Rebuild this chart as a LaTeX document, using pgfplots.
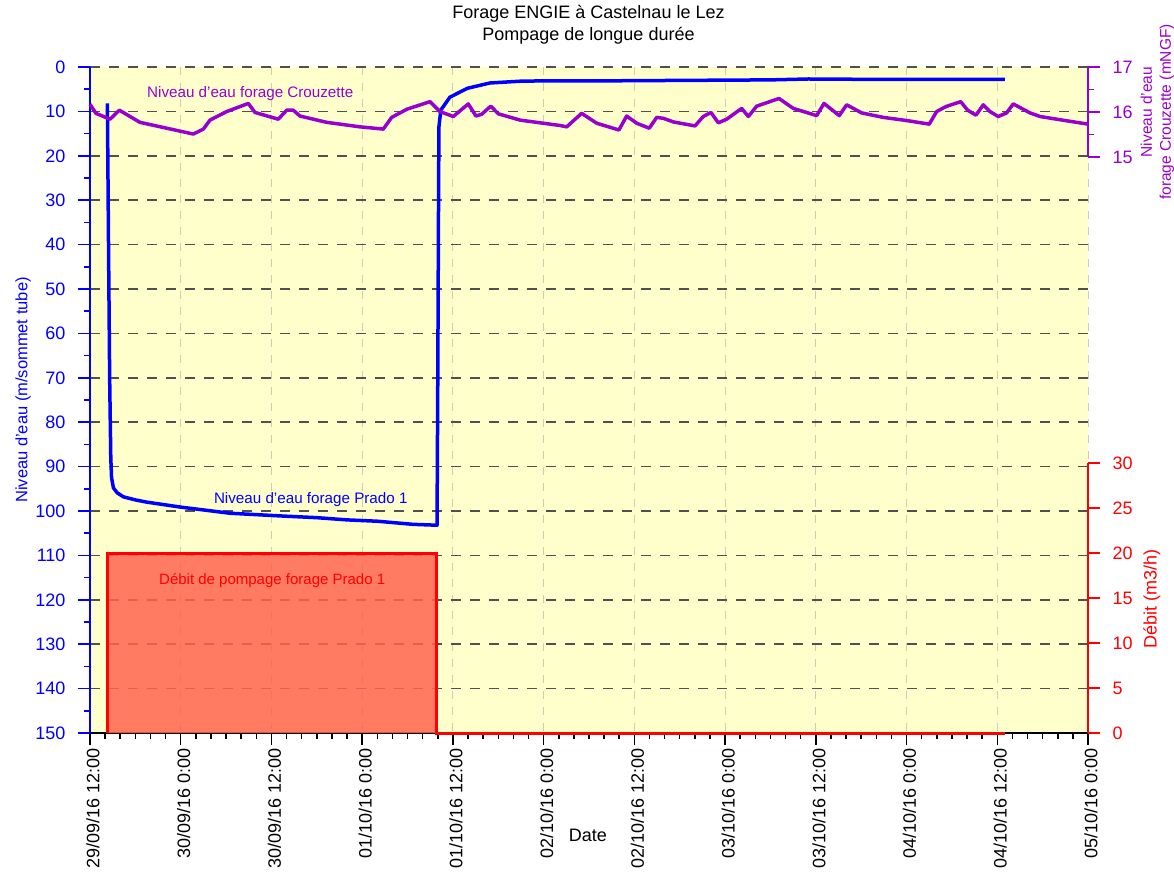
\documentclass[border=0pt]{standalone}
\usepackage{fontspec}
\setmainfont{Liberation Sans}
\usepackage{pgfplots}
\pgfplotsset{compat=1.18}
\definecolor{bgyellow}{RGB}{255,255,204}
\definecolor{purp}{RGB}{153,0,204}
\definecolor{salmon}{RGB}{255,100,80}
\definecolor{gridgray}{RGB}{80,80,80}
\definecolor{vgrid}{RGB}{205,205,180}
\begin{document}
\begin{tikzpicture}[font=\fontsize{18}{22}\selectfont]
\useasboundingbox (-90pt,-148pt) rectangle (1084pt,733pt);
\pgfplotsset{every axis/.append style={
  scale only axis, width=998pt, xmin=0, xmax=132,
  /pgf/number format/assume math mode=true,
  font=\fontsize{18}{22}\selectfont,
  tick align=outside,
  major tick length=12pt, minor tick length=6pt,
  clip=false,
}}
\begin{axis}[at={(0,0)}, anchor=south west, height=666pt,
 ymin=0, ymax=150, y dir=reverse,
 axis x line*=bottom, axis y line*=left,
 axis background/.style={fill=bgyellow},
 xtick={0,12,...,132}, minor x tick num=5,
 xticklabels={29/09/16 12:00,30/09/16 0:00,30/09/16 12:00,01/10/16 0:00,01/10/16 12:00,02/10/16 0:00,02/10/16 12:00,03/10/16 0:00,03/10/16 12:00,04/10/16 0:00,04/10/16 12:00,05/10/16 0:00},
 xticklabel style={rotate=90, anchor=east, black, yshift=-3pt},
 ytick={0,10,...,150}, minor y tick num=1,
 yticklabel style={blue, xshift=-9pt},
 ymajorgrids, xmajorgrids,
 y grid style={gridgray, line width=1.5pt, dash pattern=on 10pt off 9pt},
 x grid style={vgrid, line width=1pt, dash pattern=on 8pt off 8pt},
 x axis line style={black, line width=1.5pt},
 y axis line style={blue, line width=2.5pt},
 x tick style={black, line width=1.5pt},
 y tick style={blue, line width=1.5pt},
 ylabel={Niveau d'eau (m/sommet tube)},
 ylabel style={blue, font=\fontsize{16.5}{20}\selectfont, at={(axis description cs:-0.067,0.515)}, anchor=center},
 xlabel={Date},
 xlabel style={at={(axis description cs:0.499,-0.153)}, anchor=center},
 title={Forage ENGIE à Castelnau le Lez\\Pompage de longue durée},
 title style={at={(axis description cs:0.4995,1.054)}, anchor=center, align=center},
]
\addplot[blue, line width=3.5pt, line join=round] coordinates {
(2.3,8.2) (2.45,40) (2.6,70) (2.75,88) (2.85,92.5) (3.1,94.8) (3.6,95.9) (4.4,96.8) (6,97.5) (7.5,98.0) (11.9,99.1) (18.5,100.5) (25.1,101.1) (30,101.5) (34,102) (38,102.3) (42.7,103) (45.9,103.2)
(46.0,70) (46.1,30) (46.15,13.5) (46.4,9.7) (47.6,6.8) (49.9,4.8) (52.9,3.6) (56.9,3.2) (60.8,3.1) (70,3.1) (80,3.0) (90,2.9) (95,2.7) (105,2.8) (110,2.8) (115,2.8) (121,2.8)
};
\node[blue, font=\fontsize{15.2}{18}\selectfont] at (axis cs:29.2,97.5) {Niveau d'eau forage Prado 1};
\end{axis}
\begin{axis}[at={(0,0)}, anchor=south west, height=270pt,
 ymin=0, ymax=30,
 axis x line=none, axis y line*=right,
 ytick={0,5,...,30},
 y axis line style={red, line width=2.5pt},
 y tick style={red, line width=1.5pt},
 yticklabel style={red, xshift=9pt},
 ylabel={Débit (m3/h)},
 ylabel style={red, at={(axis description cs:1.064,0.496)}, anchor=center},
]
\addplot[fill=salmon, fill opacity=0.85, draw=none] coordinates {(2.25,0) (2.25,20) (45.8,20) (45.8,0)} \closedcycle;
\addplot[red, line width=3pt] coordinates {(2.25,0) (2.25,20) (45.8,20) (45.8,0) (121,0)};
\node[red, font=\fontsize{15}{18}\selectfont] at (axis cs:24.1,16.9) {Débit de pompage forage Prado 1};
\end{axis}
\begin{axis}[at={(0,576pt)}, anchor=south west, height=90pt,
 ymin=15, ymax=17,
 axis x line=none, axis y line*=right,
 ytick={15,16,17}, minor y tick num=1,
 y axis line style={purp, line width=2.5pt},
 y tick style={purp, line width=1.5pt},
 yticklabel style={purp, xshift=9pt},
 ylabel={Niveau d'eau\\forage Crouzette (mNGF)},
 ylabel style={purp, align=center, font=\fontsize{15.5}{19}\selectfont, at={(axis description cs:1.0695,0.5)}, anchor=center},
]
\addplot[purp, line width=3.5pt, line join=round] coordinates {
(0,16.17) (0.79,15.97) (2.65,15.84) (3.88,16.04) (6.61,15.77) (13.66,15.51) (14.99,15.62) (15.87,15.82) (18.08,16.01) (20.94,16.19) (21.82,15.99) (24.90,15.84) (26.02,16.04) (26.89,16.04) (27.77,15.91) (31.31,15.77) (35.71,15.67) (38.79,15.62) (39.90,15.88) (41.89,16.06) (44.97,16.23) (46.29,16.01) (48.05,15.90) (50.03,16.18) (51.05,15.91) (51.81,15.95) (53.00,16.13) (54.00,15.96) (56.87,15.82) (62.16,15.70) (63.05,15.67) (65.03,15.97) (67.02,15.75) (69.96,15.60) (70.98,15.91) (72.31,15.75) (73.97,15.64) (74.95,15.88) (75.82,15.86) (77.15,15.78) (80.02,15.69) (81.11,15.90) (82.13,15.99) (83.10,15.76) (84.21,15.84) (86.19,16.08) (87.07,15.90) (88.18,16.13) (91.13,16.30) (93.02,16.08) (96.11,15.92) (97.08,16.19) (99.10,15.92) (100.08,16.16) (102.06,15.98) (104.92,15.88) (108.02,15.81) (111.00,15.73) (111.98,16.01) (113.21,16.12) (115.16,16.23) (116.08,16.04) (117.18,15.93) (118.15,16.16) (119.03,16.01) (120.13,15.90) (121.24,15.98) (122.11,16.18) (124.32,15.98) (125.65,15.90) (127.85,15.84) (132,15.73)
};
\node[purp, font=\fontsize{15.2}{18}\selectfont] at (axis cs:21.2,16.42) {Niveau d'eau forage Crouzette};
\end{axis}
\end{tikzpicture}
\end{document}
